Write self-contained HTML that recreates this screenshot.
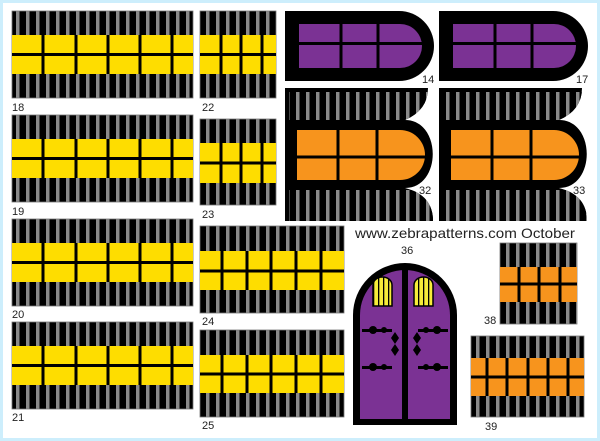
<!DOCTYPE html>
<html><head><meta charset="utf-8"><style>
html,body{margin:0;padding:0;background:#fff}
svg{display:block}
text{font-family:"Liberation Sans",sans-serif;font-size:11px;fill:#222}
</style></head><body>
<svg width="600" height="441" viewBox="0 0 600 441" xmlns="http://www.w3.org/2000/svg">
<defs>
<pattern id="st" patternUnits="userSpaceOnUse" width="10" height="10" x="2" y="0">
<rect width="10" height="10" fill="#000"/><rect x="4" width="3.5" height="10" fill="#8a8a8a"/>
</pattern>
<pattern id="sty" patternUnits="userSpaceOnUse" width="5" height="5" x="0">
<rect width="5" height="5" fill="#f7ec3a"/><rect x="3" width="1.3" height="5" fill="#000"/>
</pattern>
<clipPath id="c32"><path d="M285,88 H428 Q428,110 405,120 C442,120 442,188 405,188 Q433,195 433,221 H285 Z"/></clipPath>
<clipPath id="c33"><path d="M439,88 H582 Q582,110 559,120 C596,120 596,188 559,188 Q587,195 587,221 H439 Z"/></clipPath>
</defs>
<rect x="0" y="0" width="600" height="441" fill="#fff" stroke="#cdeefc" stroke-width="6"/>

<g stroke="#777" stroke-width="0.8">
<rect x="12" y="11" width="181" height="87" fill="url(#st)"/>
<rect x="12" y="115" width="181" height="87" fill="url(#st)"/>
<rect x="12" y="219" width="181" height="87" fill="url(#st)"/>
<rect x="12" y="322" width="181" height="87" fill="url(#st)"/>
<rect x="200" y="11" width="76" height="87" fill="url(#st)"/>
<rect x="200" y="119" width="76" height="86" fill="url(#st)"/>
<rect x="200" y="226" width="144" height="87" fill="url(#st)"/>
<rect x="200" y="330" width="144" height="87" fill="url(#st)"/>
<rect x="500" y="243" width="77" height="81" fill="url(#st)"/>
<rect x="471" y="336" width="113" height="81" fill="url(#st)"/>
</g>
<g fill="#fedd00">
<rect x="12" y="35" width="181" height="39"/>
<rect x="12" y="139" width="181" height="39"/>
<rect x="12" y="243" width="181" height="39"/>
<rect x="12" y="346" width="181" height="39"/>
<rect x="200" y="35" width="76" height="39"/>
<rect x="200" y="143" width="76" height="40"/>
<rect x="200" y="251" width="144" height="39"/>
<rect x="200" y="355" width="144" height="38"/>
</g>
<g fill="#f7941d">
<rect x="500" y="267" width="77" height="35"/>
<rect x="471" y="358" width="113" height="38"/>
</g>
<g stroke="#000" stroke-width="3">
<path d="M12,54.5H193M12,158.5H193M12,262.5H193M12,365.5H193"/>
<path d="M43,35V74M76,35V74M108,35V74M140,35V74M172,35V74"/>
<path d="M43,139V178M76,139V178M108,139V178M140,139V178M172,139V178"/>
<path d="M43,243V282M76,243V282M108,243V282M140,243V282M172,243V282"/>
<path d="M43,346V385M76,346V385M108,346V385M140,346V385M172,346V385"/>
<path d="M200,54.5H276M221,35V74M241,35V74M262,35V74"/>
<path d="M200,163H276M221,143V183M241,143V183M262,143V183"/>
<path d="M200,271H344M222,251V290M247,251V290M271,251V290M296,251V290M321,251V290"/>
<path d="M200,374H344M222,355V393M247,355V393M271,355V393M296,355V393M321,355V393"/>
<path d="M500,284H577M519,267V302M539,267V302M560,267V302"/>
<path d="M471,377H584M487,358V396M507,358V396M528,358V396M548,358V396M568,358V396"/>
</g>

<path d="M285,11 H399 A35,35 0 0 1 399,81 H285 Z" fill="#000"/>
<path d="M299,24 H400 A22,22 0 0 1 400,68 H299 Z" fill="#7b3294"/>
<path d="M439,11 H553 A35,35 0 0 1 553,81 H439 Z" fill="#000"/>
<path d="M453,24 H554 A22,22 0 0 1 554,68 H453 Z" fill="#7b3294"/>
<g stroke="#000" stroke-width="3">
<path d="M299,43.5H425M341,24V68M378,24V68M453,43.5H579M495,24V68M532,24V68"/>
</g>

<g clip-path="url(#c32)"><rect x="285" y="88" width="150" height="133" fill="#000"/><rect x="289" y="92" width="146" height="28" fill="url(#st)"/><rect x="289" y="190" width="146" height="31" fill="url(#st)"/></g>
<g clip-path="url(#c33)"><rect x="439" y="88" width="150" height="133" fill="#000"/><rect x="443" y="92" width="146" height="28" fill="url(#st)"/><rect x="443" y="190" width="146" height="31" fill="url(#st)"/></g>
<path d="M297,130 H400 A25,25 0 0 1 400,180 H297 Z" fill="#f7941d"/>
<path d="M451,130 H554 A25,25 0 0 1 554,180 H451 Z" fill="#f7941d"/>
<g stroke="#000" stroke-width="3">
<path d="M297,157H427M338,130V180M377,130V180M451,157H581M492,130V180M531,130V180"/>
</g>

<path d="M353,425 V315 A52,52 0 0 1 457,315 V425 Z" fill="#000"/>
<path d="M360,419 V315 A45,45 0 0 1 450,315 V419 Z" fill="#7b3294"/>
<rect x="402" y="268" width="6" height="155" fill="#000"/>
<path d="M373,306 V285 A9.5,8 0 0 1 392,285 V306 Z" fill="url(#sty)" stroke="#000" stroke-width="1.5"/>
<path d="M414,306 V285 A9.5,8 0 0 1 433,285 V306 Z" fill="url(#sty)" stroke="#000" stroke-width="1.5"/>
<g fill="#000">
<path d="M362,329h30v3h-30z M362,366h30v3h-30z M418,329h30v3h-30z M418,366h30v3h-30z"/>
<circle cx="373" cy="330" r="4"/><circle cx="384" cy="330" r="3"/><circle cx="373" cy="367" r="4"/><circle cx="384" cy="367" r="3"/>
<circle cx="437" cy="330" r="4"/><circle cx="426" cy="330" r="3"/><circle cx="437" cy="367" r="4"/><circle cx="426" cy="367" r="3"/>
<path d="M395,332 l4,6 -4,6 4,6 -4,6 -4,-6 4,-6 -4,-6z"/>
<path d="M417,332 l4,6 -4,6 4,6 -4,6 -4,-6 4,-6 -4,-6z"/>
</g>

<text x="12" y="111">18</text>
<text x="12" y="215">19</text>
<text x="12" y="318">20</text>
<text x="12" y="421">21</text>
<text x="202" y="111">22</text>
<text x="202" y="218">23</text>
<text x="202" y="325">24</text>
<text x="202" y="429">25</text>
<text x="422" y="83" font-size="10">14</text>
<text x="576" y="83" font-size="10">17</text>
<text x="419" y="194" font-size="10">32</text>
<text x="573" y="194" font-size="10">33</text>
<text x="355" y="238" style="font-size:14px" textLength="220" lengthAdjust="spacingAndGlyphs">www.zebrapatterns.com  October</text>
<text x="401" y="254" style="font-size:11px">36</text>
<text x="484" y="324">38</text>
<text x="485" y="430">39</text>
</svg>
</body></html>
